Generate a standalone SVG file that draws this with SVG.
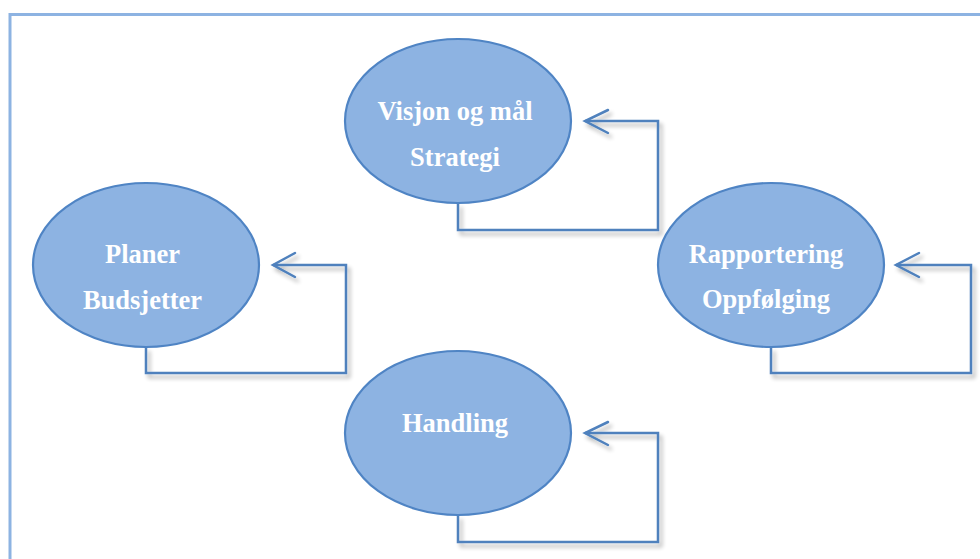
<svg xmlns="http://www.w3.org/2000/svg" width="980" height="559" viewBox="0 0 980 559">
<defs>
<style>
.node{fill:#8DB3E2;stroke:#4F84C4;stroke-width:2.2}
.lbl{font-family:"Liberation Serif","Times New Roman",serif;font-weight:bold;font-size:26.5px;fill:#FFFFFF;text-anchor:middle}
.conn{fill:none;stroke:#4F81BD;stroke-width:2.5;stroke-linejoin:miter}
.head{fill:none;stroke:#4F81BD;stroke-width:2.5;stroke-linecap:round;stroke-linejoin:miter}
</style>
<filter id="sh" x="-10%" y="-10%" width="130%" height="140%">
<feGaussianBlur in="SourceAlpha" stdDeviation="2"/>
<feOffset dx="3" dy="4" result="b"/>
<feComponentTransfer><feFuncA type="linear" slope="0.3"/></feComponentTransfer>
<feMerge><feMergeNode/><feMergeNode in="SourceGraphic"/></feMerge>
</filter>
</defs>
<rect width="980" height="559" fill="#FFFFFF"/>
<path d="M10,559 V14.5 H980" fill="none" stroke="#8DB3E2" stroke-width="3"/>
<g id="connectors" filter="url(#sh)">
<path class="conn" d="M458,203 V230 H658 V121 H585"/>
<path class="head" d="M608,110 L585,121 L608,133"/>
<path class="conn" d="M146,347 V373 H346 V265 H273"/>
<path class="head" d="M295,253 L273,265 L295,277"/>
<path class="conn" d="M771,347 V373 H971 V265 H896"/>
<path class="head" d="M919,253 L896,265 L919,277"/>
<path class="conn" d="M458,515 V542 H658 V433 H585"/>
<path class="head" d="M608,422 L585,433 L608,445"/>
</g>
<g id="visjon">
<ellipse class="node" cx="458" cy="121" rx="113" ry="82"/>
<text class="lbl" x="455" y="120">Visjon og mål</text>
<text class="lbl" x="455" y="166">Strategi</text>
</g>
<g id="planer">
<ellipse class="node" cx="146" cy="265" rx="113" ry="82"/>
<text class="lbl" x="142.5" y="263">Planer</text>
<text class="lbl" x="142.5" y="309">Budsjetter</text>
</g>
<g id="rapportering">
<ellipse class="node" cx="771" cy="265" rx="113" ry="82"/>
<text class="lbl" x="766" y="263">Rapportering</text>
<text class="lbl" x="766" y="308">Oppfølging</text>
</g>
<g id="handling">
<ellipse class="node" cx="458" cy="433" rx="113" ry="82"/>
<text class="lbl" x="455" y="432">Handling</text>
</g>
</svg>
